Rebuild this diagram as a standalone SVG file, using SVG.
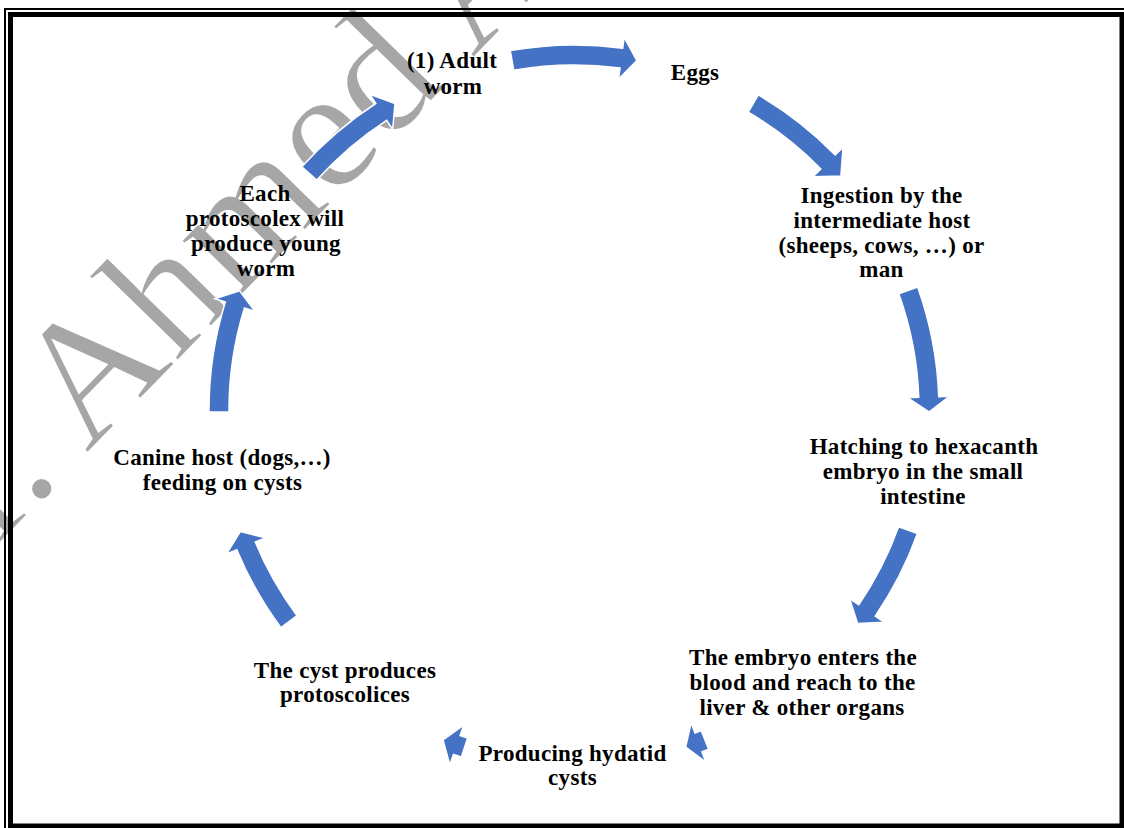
<svg xmlns="http://www.w3.org/2000/svg" width="1124" height="828" viewBox="0 0 1124 828">
<style>
.lbl{font-family:"Liberation Serif","Times New Roman",serif;font-weight:bold;font-size:23px;letter-spacing:0.3px;fill:#000;text-anchor:middle}
.arr{fill:#4472C4;stroke:#fff;stroke-width:1.5;stroke-linejoin:miter}
.wm{font-family:"Liberation Serif","Times New Roman",serif;font-size:176px;fill:#A6A6A6;stroke:#fff;stroke-width:1.5}
</style>
<rect x="0" y="0" width="1124" height="828" fill="#fff"/>
<g id="watermark">
<text class="wm" transform="translate(-91,636) rotate(-45.7)">Dr. Ahmed A</text>
</g>
<g id="connectors">
<path class="arr" d="M510.30,50.60 A365,365 0 0 1 622.71,48.27 L624.18,37.37 L636.86,60.61 L618.58,78.99 L620.04,68.09 A345,345 0 0 0 513.79,70.29 Z"/>
<path class="arr" d="M758.34,94.97 A365,365 0 0 1 835.18,155.03 L843.05,147.34 L840.90,175.93 L813.00,176.68 L820.87,169.00 A345,345 0 0 0 748.24,112.23 Z"/>
<path class="arr" d="M917.64,286.96 A365,365 0 0 1 938.76,396.63 L949.75,396.22 L928.99,411.98 L907.78,397.76 L918.77,397.36 A345,345 0 0 0 898.81,293.70 Z"/>
<path class="arr" d="M917.44,533.58 A365,365 0 0 1 875.25,616.09 L884.33,622.30 L857.57,623.57 L849.66,598.59 L858.74,604.80 A345,345 0 0 0 898.62,526.81 Z"/>
<path class="arr" d="M708.65,749.25 A365,365 0 0 1 702.00,751.82 L705.86,762.12 L685.64,746.99 L691.13,722.79 L694.98,733.09 A345,345 0 0 0 701.27,730.66 Z"/>
<path class="arr" d="M461.34,757.17 A365,365 0 0 1 453.47,754.52 L449.84,764.91 L443.04,739.96 L463.71,725.26 L460.07,735.65 A345,345 0 0 0 467.51,738.15 Z"/>
<path class="arr" d="M280.97,627.62 A365,365 0 0 1 236.78,549.68 L226.62,553.89 L240.41,531.42 L265.42,537.82 L255.26,542.02 A345,345 0 0 0 297.03,615.70 Z"/>
<path class="arr" d="M209.01,412.04 A365,365 0 0 1 225.34,302.01 L214.84,298.76 L239.59,290.87 L254.96,311.18 L244.45,307.93 A345,345 0 0 0 229.01,411.93 Z"/>
<path class="arr" d="M301.83,166.79 A365,365 0 0 1 375.80,103.50 L369.83,94.26 L395.00,103.43 L392.64,129.53 L386.66,120.29 A345,345 0 0 0 316.74,180.12 Z"/>
</g>
<g id="n-adult"><text class="lbl" x="452" y="68">(1) Adult</text><text class="lbl" x="453" y="94">worm</text></g>
<g id="n-eggs"><text class="lbl" x="695" y="80">Eggs</text></g>
<g id="n-ingestion"><text class="lbl" x="881.5" y="203">Ingestion by the</text><text class="lbl" x="882" y="228">intermediate host</text><text class="lbl" x="881.5" y="253">(sheeps, cows, …) or</text><text class="lbl" x="881.5" y="277">man</text></g>
<g id="n-hatching"><text class="lbl" x="924" y="454">Hatching to hexacanth</text><text class="lbl" x="923" y="479">embryo in the small</text><text class="lbl" x="923" y="503.5">intestine</text></g>
<g id="n-embryo"><text class="lbl" x="803" y="665">The embryo enters the</text><text class="lbl" x="802.5" y="690">blood and reach to the</text><text class="lbl" x="802" y="715">liver &amp; other organs</text></g>
<g id="n-hydatid"><text class="lbl" x="572.5" y="761">Producing hydatid</text><text class="lbl" x="572.5" y="785">cysts</text></g>
<g id="n-cyst"><text class="lbl" x="345" y="677.5">The cyst produces</text><text class="lbl" x="345" y="702">protoscolices</text></g>
<g id="n-canine"><text class="lbl" x="222" y="465">Canine host (dogs,…)</text><text class="lbl" x="222.5" y="490">feeding on cysts</text></g>
<g id="n-each"><text class="lbl" x="265" y="201">Each</text><text class="lbl" x="265" y="226">protoscolex will</text><text class="lbl" x="266" y="251">produce young</text><text class="lbl" x="266" y="276">worm</text></g>
<g id="frame" fill="none" stroke="#000">
<rect x="5" y="9" width="1130" height="830" stroke-width="2"/>
<rect x="10.5" y="14.5" width="1111.5" height="811.5" stroke-width="5"/>
</g>
</svg>
